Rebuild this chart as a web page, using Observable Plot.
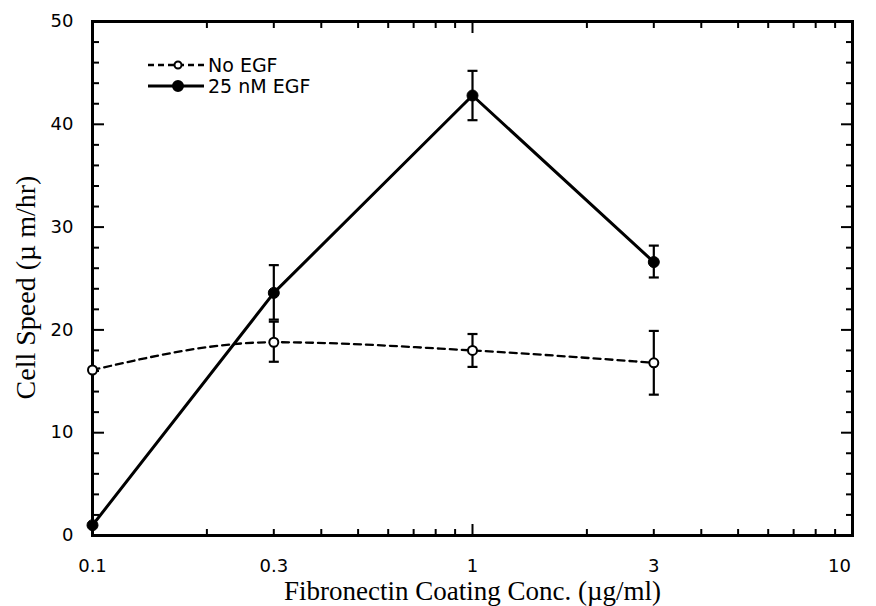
<!DOCTYPE html>
<html><head><meta charset="utf-8">
<script src="https://cdn.jsdelivr.net/npm/d3@7"></script>
<script src="https://cdn.jsdelivr.net/npm/@observablehq/plot@0.6"></script>
<style>body{margin:0;background:#fff}</style>
</head><body><div id="chart"></div>
<script>
// Data
const conc = [0.1, 0.3, 1, 3];
const noEGF = [16.1, 18.8, 18.0, 16.8];
const noEGFLo = [null, 16.9, 16.4, 13.7];
const noEGFHi = [null, 20.8, 19.6, 19.9];
const egf = [1.0, 23.6, 42.8, 26.6];
const egfLo = [null, 21.0, 40.4, 25.1];
const egfHi = [null, 26.3, 45.2, 28.2];
const seriesNames = ["No EGF", "25 nM EGF"];
const xLabelTicks = [0.1, 0.3, 1, 3];
const xLastLabel = [10];
const xMajorTicks = [0.1, 1, 10];
const xMinorTicks = [0.2, 0.3, 0.4, 0.5, 0.6, 0.7, 0.8, 0.9, 2, 3, 4, 5, 6, 7, 8, 9];
const yLabelTicks = [0, 10, 20, 30, 40, 50];
const yMinorTicks = [2,4,6,8,12,14,16,18,22,24,26,28,32,34,36,38,42,44,46,48];
const xTitle = "Fibronectin Coating Conc. (\u00b5g/ml)";
const yTitle = "Cell Speed (\u00b5 m/hr)";

const rowsNo = conc.map((c, i) => ({x: c, y: noEGF[i], lo: noEGFLo[i], hi: noEGFHi[i]}));
const rowsE = conc.map((c, i) => ({x: c, y: egf[i], lo: egfLo[i], hi: egfHi[i]}));
const errNo = rowsNo.filter(d => d.lo != null);
const errE = rowsE.filter(d => d.lo != null);

const cap = {draw(ctx, size) { const w = Math.sqrt(size / Math.PI); ctx.moveTo(-w, 0); ctx.lineTo(w, 0); }};
const blank = () => "";
const M = {left: 92, right: 24, top: 21, bottom: 71};
const serif = "'Liberation Serif', 'Times New Roman', serif";
const sans = "'DejaVu Sans', 'Liberation Sans', Arial, sans-serif";

const plot = Plot.plot({
  width: 876, height: 606,
  marginLeft: M.left, marginRight: M.right, marginTop: M.top, marginBottom: M.bottom,
  style: {fontFamily: sans, fontSize: "16px", background: "#fff", color: "#000"},
  x: {type: "log", domain: [0.1, 10]},
  y: {domain: [0, 50]},
  marks: [
    // axes ticks (inward)
    Plot.axisX({ticks: xMinorTicks, anchor: "bottom", tickSize: -6, tickFormat: blank, strokeWidth: 2, label: null}),
    Plot.axisX({ticks: xMinorTicks, anchor: "top", tickSize: -6, tickFormat: blank, strokeWidth: 2, label: null}),
    Plot.axisX({ticks: xMajorTicks, anchor: "bottom", tickSize: -11, tickFormat: blank, strokeWidth: 2, label: null}),
    Plot.axisX({ticks: xMajorTicks, anchor: "top", tickSize: -11, tickFormat: blank, strokeWidth: 2, label: null}),
    Plot.axisX({ticks: xLabelTicks, anchor: "bottom", tickSize: 0, tickPadding: 24, fontSize: 18, tickFormat: d => String(d), label: null}),
    Plot.axisX({ticks: xLastLabel, anchor: "bottom", tickSize: 0, tickPadding: 24, dx: -13, fontSize: 18, tickFormat: d => String(d), label: null}),
    Plot.axisY({ticks: yMinorTicks, anchor: "left", tickSize: -7, tickFormat: blank, strokeWidth: 2, label: null}),
    Plot.axisY({ticks: yMinorTicks, anchor: "right", tickSize: -7, tickFormat: blank, strokeWidth: 2, label: null}),
    Plot.axisY({ticks: yLabelTicks, anchor: "left", tickSize: -12, tickFormat: blank, strokeWidth: 2, label: null}),
    Plot.axisY({ticks: yLabelTicks, anchor: "right", tickSize: -12, tickFormat: blank, strokeWidth: 2, label: null}),
    Plot.axisY({ticks: yLabelTicks, anchor: "left", tickSize: 0, tickPadding: 19, fontSize: 18, tickFormat: d => String(d), label: null}),
    Plot.frame({stroke: "black", strokeWidth: 3}),
    // titles
    Plot.text([xTitle], {frameAnchor: "bottom", dy: 56, textAnchor: "middle", lineAnchor: "middle", fontFamily: serif, fontSize: 27, letterSpacing: "1.5px"}),
    Plot.text([yTitle], {frameAnchor: "left", dx: -66, dy: 9, rotate: -90, textAnchor: "middle", lineAnchor: "middle", fontFamily: serif, fontSize: 28}),
    // error bars
    Plot.ruleX(errNo, {x: "x", y1: "lo", y2: "hi", stroke: "black", strokeWidth: 2.2}),
    Plot.dot(errNo, {x: "x", y: "lo", symbol: cap, r: 5, stroke: "black", strokeWidth: 2.2}),
    Plot.dot(errNo, {x: "x", y: "hi", symbol: cap, r: 5, stroke: "black", strokeWidth: 2.2}),
    Plot.ruleX(errE, {x: "x", y1: "lo", y2: "hi", stroke: "black", strokeWidth: 2.2}),
    Plot.dot(errE, {x: "x", y: "lo", symbol: cap, r: 5, stroke: "black", strokeWidth: 2.2}),
    Plot.dot(errE, {x: "x", y: "hi", symbol: cap, r: 5, stroke: "black", strokeWidth: 2.2}),
    // lines
    Plot.line(rowsNo, {x: "x", y: "y", curve: "monotone-x", stroke: "black", strokeWidth: 2.3, strokeDasharray: "7,5"}),
    Plot.line(rowsE, {x: "x", y: "y", stroke: "black", strokeWidth: 3}),
    // points
    Plot.dot(rowsNo, {x: "x", y: "y", r: 4.5, fill: "white", stroke: "black", strokeWidth: 2}),
    Plot.dot(rowsE, {x: "x", y: "y", r: 5.5, fill: "black", stroke: "black", strokeWidth: 1})
  ]
});
document.getElementById("chart").appendChild(plot);

// Legend (inside plot, top-left)
const svg = d3.select(plot);
const lg = svg.append("g").attr("font-family", sans).attr("font-size", 19).attr("text-anchor", "start");
const lx0 = M.left + 56, lx1 = M.left + 112, ly = [M.top + 44, M.top + 65];
seriesNames.forEach((name, i) => {
  const g = lg.append("g");
  g.append("line").attr("x1", lx0).attr("x2", lx1).attr("y1", ly[i]).attr("y2", ly[i])
    .attr("stroke", "black").attr("stroke-width", i === 0 ? 2.3 : 3)
    .attr("stroke-dasharray", i === 0 ? "6,4" : null);
  g.append("circle").attr("cx", M.left + 86).attr("cy", ly[i]).attr("r", i === 0 ? 3.5 : 5)
    .attr("fill", i === 0 ? "white" : "black").attr("stroke", "black").attr("stroke-width", 2);
  g.append("text").attr("x", lx1 + 4).attr("y", ly[i]).attr("dy", "0.36em").attr("text-anchor", "start").text(name);
});
</script>
</body></html>
